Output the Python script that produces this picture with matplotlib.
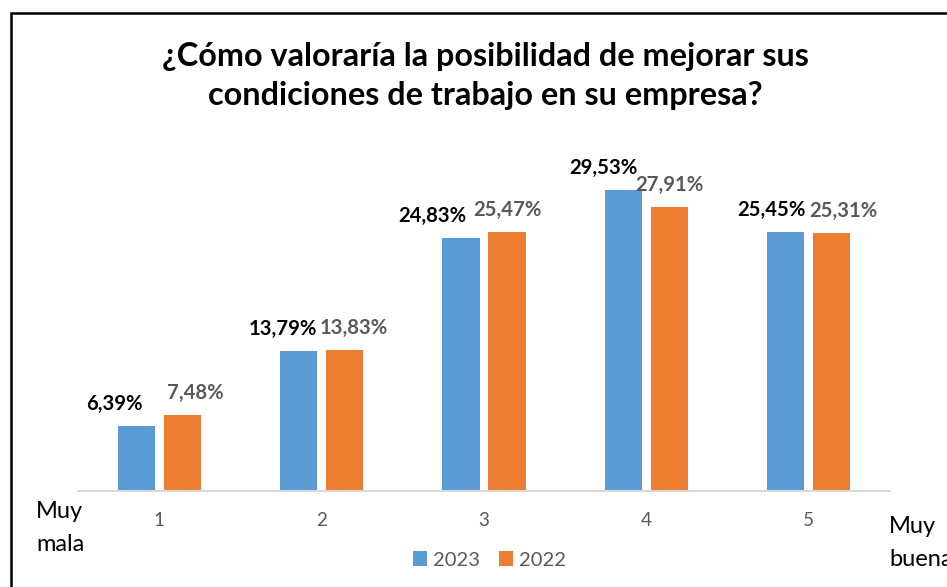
import matplotlib
matplotlib.use("Agg")
import matplotlib.pyplot as plt
from matplotlib.patches import Rectangle
import numpy as np

categories = ["1", "2", "3", "4", "5"]
series_2023 = [6.39, 13.79, 24.83, 29.53, 25.45]
series_2022 = [7.48, 13.83, 25.47, 27.91, 25.31]
labels_2023 = ["6,39%", "13,79%", "24,83%", "29,53%", "25,45%"]
labels_2022 = ["7,48%", "13,83%", "25,47%", "27,91%", "25,31%"]
legend_labels = ["2023", "2022"]
title = "¿Cómo valoraría la posibilidad de mejorar sus\ncondiciones de trabajo en su empresa?"

# layout-only label nudges (pixels)
nudge_2023 = [-22, -16, -29, -20, -14]
nudge_2022 = [13, 9, 0, 0, 12]

FONT = "Lato"
BLUE = "#5b9bd5"
ORANGE = "#ed7d31"
GRAY = "#595959"

fig = plt.figure(figsize=(9.47, 5.87), dpi=100)
fig.patch.set_facecolor("white")

# frame (left and top visible)
fig.add_artist(Rectangle((10.5 / 947, -0.1), 1.2, 1.1 - 12.5 / 587,
                         transform=fig.transFigure, fill=False,
                         edgecolor="black", linewidth=1.8))

ax = fig.add_axes([78 / 947, 1 - 491 / 587, (890 - 78) / 947, (491 - 150) / 587])
x = np.arange(1, len(categories) + 1)
w = 0.228
off = 0.1416
b1 = ax.bar(x - off, series_2023, w, color=BLUE, label=legend_labels[0])
b2 = ax.bar(x + off, series_2022, w, color=ORANGE, label=legend_labels[1])

ax.set_xlim(0.5, 5.5)
ax.set_ylim(0, 33.5)
ax.set_yticks([])
for s in ["top", "right", "left"]:
    ax.spines[s].set_visible(False)
ax.spines["bottom"].set_color("#d9d9d9")
ax.spines["bottom"].set_linewidth(1.5)
ax.set_xticks(x)
ax.set_xticklabels(categories, fontfamily=FONT, fontsize=13.5, color=GRAY)
ax.tick_params(axis="x", length=0, pad=15)

for i in range(len(categories)):
    ax.annotate(labels_2023[i], (x[i] - off, series_2023[i]),
                xytext=(nudge_2023[i], 22), textcoords="offset pixels",
                ha="center", va="center", fontfamily=FONT, fontweight="bold",
                fontsize=14.6, color="black")
    ax.annotate(labels_2022[i], (x[i] + off, series_2022[i]),
                xytext=(nudge_2022[i], 22), textcoords="offset pixels",
                ha="center", va="center", fontfamily=FONT, fontweight="bold",
                fontsize=14.6, color=GRAY)

fig.text(485.5 / 947, 1 - 76 / 587, title, ha="center", va="center",
         fontfamily=FONT, fontweight="bold", fontsize=23.3, color="black",
         linespacing=1.44)

fig.text(36 / 947, 1 - 528 / 587, "Muy\nmala", ha="left", va="center",
         fontfamily=FONT, fontsize=17, color="black", linespacing=1.7)
fig.text(889 / 947, 1 - 543 / 587, "Muy\nbuena", ha="left", va="center",
         fontfamily=FONT, fontsize=17, color="black", linespacing=1.7)

leg = fig.legend(handles=[b1, b2], labels=legend_labels, loc="center",
                 bbox_to_anchor=(489.5 / 947, 1 - 560 / 587), ncol=2,
                 frameon=False, handlelength=0.7, handleheight=0.7,
                 handletextpad=0.3, columnspacing=0.9,
                 prop={"family": FONT, "size": 14.5})
for t in leg.get_texts():
    t.set_color(GRAY)

fig.savefig("out.png", dpi=100, facecolor="white")
